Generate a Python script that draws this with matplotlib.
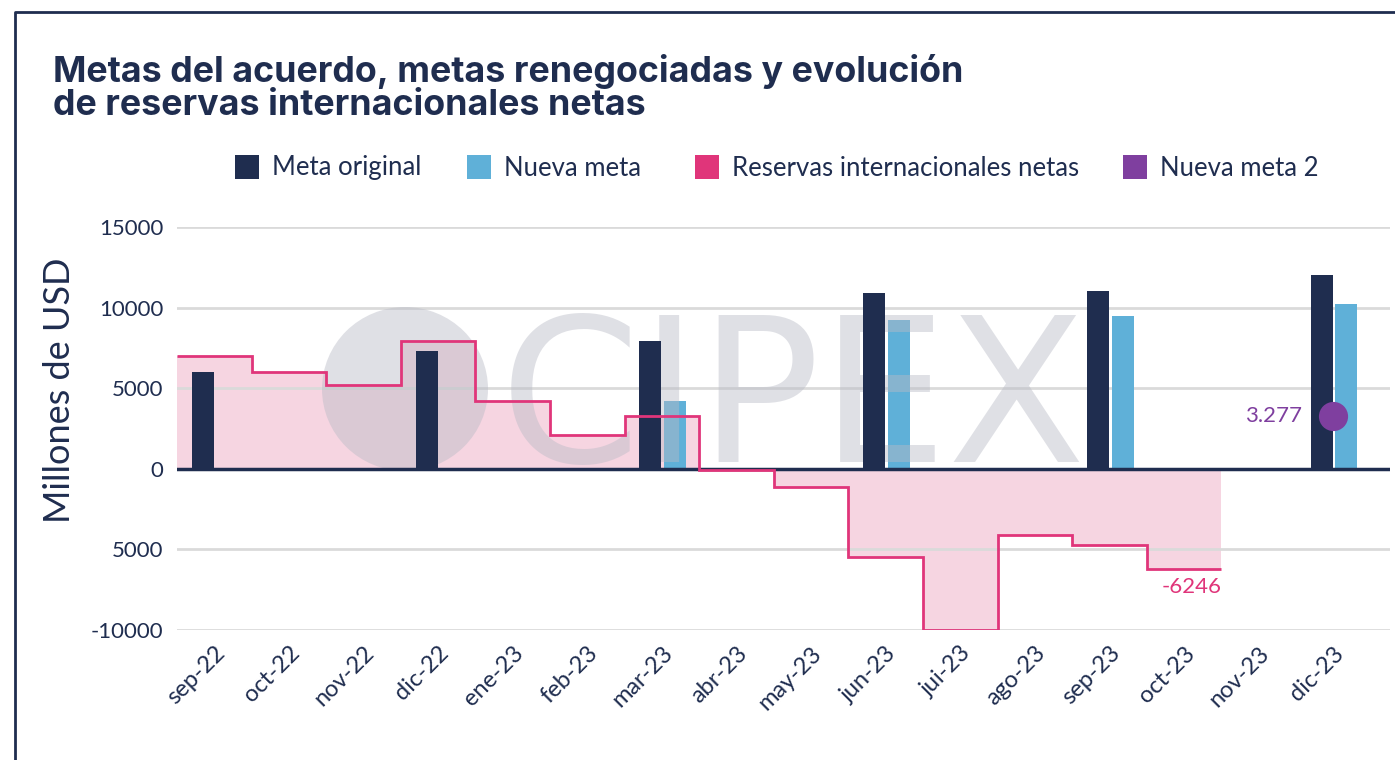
import matplotlib
matplotlib.use("Agg")
import matplotlib.pyplot as plt
from matplotlib.patches import Ellipse, Rectangle
import numpy as np

categories = ["sep-22", "oct-22", "nov-22", "dic-22", "ene-23", "feb-23", "mar-23", "abr-23",
              "may-23", "jun-23", "jui-23", "ago-23", "sep-23", "oct-23", "nov-23", "dic-23"]
meta_original = {"sep-22": 6000, "dic-22": 7300, "mar-23": 7900, "jun-23": 10900,
                 "sep-23": 11000, "dic-23": 12000}
nueva_meta = {"mar-23": 4200, "jun-23": 9200, "sep-23": 9500, "dic-23": 10200}
nueva_meta_2 = {"dic-23": 3277}
reservas = [7000, 6000, 5200, 7900, 4200, 2100, 3300, -100, -1100, -5500, -10000, -4100, -4700, -6246]
yticks = [-10000, -5000, 0, 5000, 10000, 15000]
ytick_labels = ["-10000", "5000", "0", "5000", "10000", "15000"]

NAVY = "#1F2D4F"
BLUE = "#5FB0D8"
PINK = "#E0357A"
PINKFILL = "#F6D5E1"
PURPLE = "#7F3F9F"
WM = "#B9BBC6"
FONT = "Lato"

fig = plt.figure(figsize=(13.95, 7.6), dpi=100)
# pixel-coordinate helper axes (behind everything)
px = fig.add_axes([0, 0, 1, 1], zorder=0)
px.set_xlim(0, 1395); px.set_ylim(760, 0); px.axis("off")

ax = fig.add_axes([177/1395, 1-630/760, (1390-177)/1395, (630-227)/760], zorder=2)
ax.set_facecolor("none")

x = np.arange(len(categories))
idx = {c: i for i, c in enumerate(categories)}
bw = 0.295

# reserves step fill
edges = np.arange(len(reservas) + 1) - 0.5
ax.stairs(reservas, edges, baseline=0, fill=True, color=PINKFILL, zorder=1)

# grid
for yt in yticks:
    if yt != 0:
        ax.axhline(yt, color="#DADADA", lw=2, zorder=1.5)

xn = [idx[c] + 0.175 for c in nueva_meta]
ax.bar(xn, list(nueva_meta.values()), width=bw, color=BLUE, zorder=1.8, label="Nueva meta")

# watermark (drawn in figure pixel coords, in main axes layering)
ax.add_patch(Ellipse((405, 389), 166, 164, transform=px.transData, color=WM, alpha=0.45,
                     lw=0, zorder=2, clip_on=False))
ax.text(500, 462, "CIPEX", transform=px.transData, fontsize=145, family="DejaVu Sans",
        color=WM, alpha=0.45, ha="left", va="baseline", zorder=2, clip_on=False)

xo = [idx[c] - 0.155 for c in meta_original]
ax.bar(xo, list(meta_original.values()), width=bw, color=NAVY, zorder=3, label="Meta original")

ax.stairs(reservas, edges, baseline=None, fill=False, color=PINK, lw=2, zorder=5,
          label="Reservas internacionales netas")
ax.axhline(0, color=NAVY, lw=2.5, zorder=4)

xp = [idx[c] for c in nueva_meta_2]
ax.plot(xp, list(nueva_meta_2.values()), "o", color=PURPLE, ms=21, mew=0, zorder=6,
        label="Nueva meta 2")
for c, v in nueva_meta_2.items():
    ax.text(idx[c] - 0.42, v, f"{v/1000:.3f}", color=PURPLE, fontsize=16, family=FONT,
            ha="right", va="center", zorder=6)
ax.text(len(reservas) - 1 + 0.5, reservas[-1] - 450, str(reservas[-1]), color=PINK, fontsize=16,
        family=FONT, ha="right", va="top", zorder=6)

ax.set_xlim(-0.5, 15.76)
ax.set_ylim(-10000, 15000)
ax.set_yticks(yticks)
ax.set_yticklabels(ytick_labels, fontsize=16, color=NAVY, family=FONT)
ax.set_xticks(x)
ax.set_xticklabels(categories, rotation=45, ha="right", rotation_mode="anchor", fontsize=17,
                   color=NAVY, family=FONT)
ax.tick_params(axis="y", length=0, pad=10)
ax.tick_params(axis="x", length=0, pad=9)
for s in ax.spines.values():
    s.set_visible(False)

fig.text(60/1395, 1-390/760, "Millones de USD", rotation=90, fontsize=26, color=NAVY,
         family=FONT, ha="center", va="center")

# frame
ov = fig.add_axes([0, 0, 1, 1], zorder=3)
ov.set_xlim(0, 1395); ov.set_ylim(760, 0); ov.axis("off")
ov.plot([15, 15, 1400], [770, 12, 12], color=NAVY, lw=2, clip_on=False)

# title
ov.text(53, 82, "Metas del acuerdo, metas renegociadas y evolución",
        fontsize=25.8, fontweight="bold", family="Inter", color=NAVY, va="baseline", ha="left")
ov.text(53, 115, "de reservas internacionales netas",
        fontsize=25.8, fontweight="bold", family="Inter", color=NAVY, va="baseline", ha="left")

# legend
leg_items = [("Meta original", NAVY), ("Nueva meta", BLUE), ("Reservas internacionales netas", PINK),
             ("Nueva meta 2", PURPLE)]
lx = [235, 467, 695, 1123]
for (lab, col), xx in zip(leg_items, lx):
    ov.add_patch(Rectangle((xx, 155), 24, 24, color=col, lw=0))
    ov.text(xx + 37, 168, lab, fontsize=18.5, family=FONT, color=NAVY, va="center", ha="left")

fig.savefig("out.png", dpi=100)
